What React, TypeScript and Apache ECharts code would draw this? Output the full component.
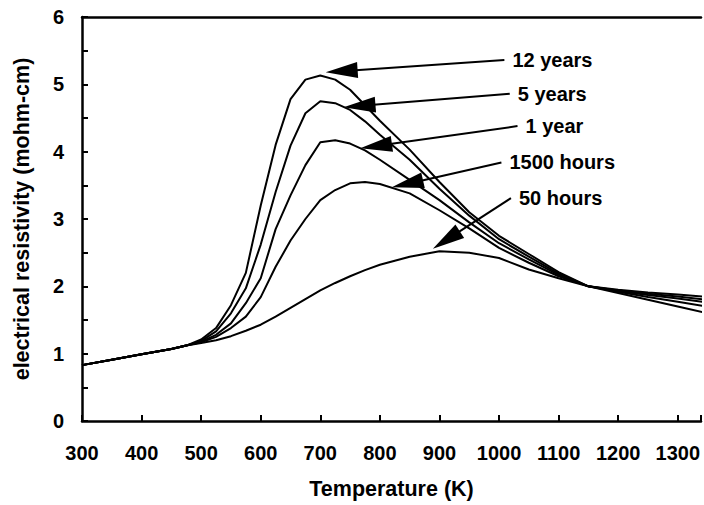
import React, { useEffect, useRef } from "react";
import * as echarts from "echarts";

const temperatures = [300, 350, 400, 450, 475, 500, 525, 550, 575, 600, 625, 650, 675, 700, 725, 750, 775, 800, 850, 900, 950, 1000, 1050, 1100, 1150, 1200, 1250, 1300, 1350];

const years12 = [0.83, 0.91, 0.99, 1.07, 1.12, 1.21, 1.38, 1.72, 2.2, 3.2, 4.1, 4.78, 5.07, 5.13, 5.07, 4.92, 4.69, 4.46, 4.03, 3.55, 3.1, 2.75, 2.48, 2.21, 2.0, 1.9, 1.8, 1.7, 1.6];
const years5 = [0.83, 0.91, 0.99, 1.07, 1.12, 1.19, 1.33, 1.6, 1.97, 2.62, 3.4, 4.09, 4.57, 4.75, 4.72, 4.62, 4.45, 4.25, 3.88, 3.45, 3.05, 2.7, 2.44, 2.19, 2.0, 1.92, 1.84, 1.77, 1.7];
const year1 = [0.83, 0.91, 0.99, 1.07, 1.12, 1.18, 1.28, 1.45, 1.75, 2.12, 2.85, 3.35, 3.8, 4.14, 4.17, 4.12, 4.02, 3.88, 3.58, 3.28, 2.95, 2.64, 2.4, 2.17, 2.0, 1.93, 1.87, 1.82, 1.76];
const hours1500 = [0.83, 0.91, 0.99, 1.07, 1.12, 1.17, 1.25, 1.38, 1.55, 1.84, 2.29, 2.68, 3.0, 3.28, 3.43, 3.53, 3.55, 3.52, 3.38, 3.13, 2.86, 2.57, 2.35, 2.15, 2.0, 1.94, 1.89, 1.85, 1.8];
const hours50 = [0.83, 0.91, 0.99, 1.07, 1.12, 1.16, 1.2, 1.26, 1.34, 1.43, 1.55, 1.68, 1.81, 1.94, 2.05, 2.15, 2.24, 2.32, 2.44, 2.52, 2.5, 2.42, 2.25, 2.12, 2.0, 1.95, 1.91, 1.88, 1.84];

const labelNames = ["12 years", "5 years", "1 year", "1500 hours", "50 hours"];
const arrowTails = [[1009, 5.36], [1018, 4.86], [1031, 4.38], [1004, 3.84], [1020, 3.31]];
const arrowTips = [[709, 5.18], [739, 4.66], [767, 4.05], [820, 3.47], [889, 2.56]];

const xTickValues = [300, 400, 500, 600, 700, 800, 900, 1000, 1100, 1200, 1300];
const yTickValues = [0, 1, 2, 3, 4, 5, 6];

const FONT = "'Liberation Sans', Arial, sans-serif";

export default function App() {
  const ref = useRef<HTMLDivElement>(null);
  useEffect(() => {
    if (!ref.current) return;
    const chart = echarts.init(ref.current, undefined, { renderer: "svg" });
    const curves = [years12, years5, year1, hours1500, hours50];
    const lineSeries = curves.map((vals, i) => ({
      type: "line",
      name: labelNames[i],
      data: temperatures.map((t, j) => [t, vals[j]]),
      showSymbol: false,
      symbol: "none",
      lineStyle: { color: "#000", width: 2 },
      clip: true,
      z: 2,
    }));
    const arrowData = arrowTails.map((tail, i) => [tail[0], tail[1], arrowTips[i][0], arrowTips[i][1]]);
    chart.setOption({
      animation: false,
      backgroundColor: "#fff",
      grid: { left: 82, right: 0, top: 17, bottom: 82, containLabel: false },
      xAxis: [
        {
          type: "value",
          min: 300,
          max: 1339,
          interval: 100,
          name: "Temperature (K)",
          nameLocation: "middle",
          nameGap: 57,
          nameTextStyle: { fontFamily: FONT, fontWeight: "bold", fontSize: 21.5, color: "#000" },
          axisLine: { show: true, onZero: false, lineStyle: { color: "#000", width: 2.5 } },
          axisTick: { show: true, inside: true, length: 6, lineStyle: { color: "#000", width: 2 } },
          axisLabel: {
            margin: 22,
            fontFamily: FONT,
            fontWeight: "bold",
            fontSize: 20,
            color: "#000",
            formatter: (v: number) => (xTickValues.includes(v) ? String(v) : ""),
          },
          splitLine: { show: false },
        },
        {
          type: "value",
          position: "top",
          min: 300,
          max: 1339,
          axisLine: { show: true, onZero: false, lineStyle: { color: "#000", width: 2.5 } },
          axisTick: { show: false },
          axisLabel: { show: false },
          splitLine: { show: false },
        },
      ],
      yAxis: {
        type: "value",
        min: 0,
        max: 6,
        interval: 0.5,
        name: "electrical resistivity (mohm-cm)",
        nameLocation: "middle",
        nameGap: 49,
        nameTextStyle: { fontFamily: FONT, fontWeight: "bold", fontSize: 21.5, color: "#000" },
        axisLine: { show: true, onZero: false, lineStyle: { color: "#000", width: 2.5 } },
        axisTick: { show: true, inside: true, length: 6, lineStyle: { color: "#000", width: 2 } },
        axisLabel: {
          margin: 18,
          fontFamily: FONT,
          fontWeight: "bold",
          fontSize: 20,
          color: "#000",
          formatter: (v: number) => (yTickValues.includes(v) ? String(v) : ""),
        },
        splitLine: { show: false },
      },
      series: [
        ...lineSeries,
        {
          type: "custom",
          name: "annotations",
          data: arrowData,
          encode: { x: [0, 2], y: [1, 3] },
          clip: false,
          z: 5,
          renderItem: (params: any, api: any) => {
            const p0 = api.coord([api.value(0), api.value(1)]);
            const p1 = api.coord([api.value(2), api.value(3)]);
            const dx = p1[0] - p0[0];
            const dy = p1[1] - p0[1];
            const len = Math.hypot(dx, dy);
            const ux = dx / len;
            const uy = dy / len;
            const L = 32;
            const W = 8;
            const bx = p1[0] - ux * L;
            const by = p1[1] - uy * L;
            return {
              type: "group",
              children: [
                {
                  type: "line",
                  shape: { x1: p0[0], y1: p0[1], x2: bx + ux * 2, y2: by + uy * 2 },
                  style: { stroke: "#000", lineWidth: 2 },
                },
                {
                  type: "polygon",
                  shape: {
                    points: [
                      [p1[0], p1[1]],
                      [bx - uy * W, by + ux * W],
                      [bx + uy * W, by - ux * W],
                    ],
                  },
                  style: { fill: "#000", stroke: "none" },
                },
                {
                  type: "text",
                  x: p0[0] + 8,
                  y: p0[1],
                  style: {
                    text: labelNames[params.dataIndex],
                    fontFamily: FONT,
                    fontWeight: "bold",
                    fontSize: 20,
                    fill: "#000",
                    align: "left",
                    verticalAlign: "middle",
                  },
                },
              ],
            };
          },
        },
      ],
    });
    return () => chart.dispose();
  }, []);
  return (
    <div
      ref={ref}
      style={{ position: "absolute", left: 0, top: 0, width: 704, height: 505, background: "#fff" }}
    />
  );
}
